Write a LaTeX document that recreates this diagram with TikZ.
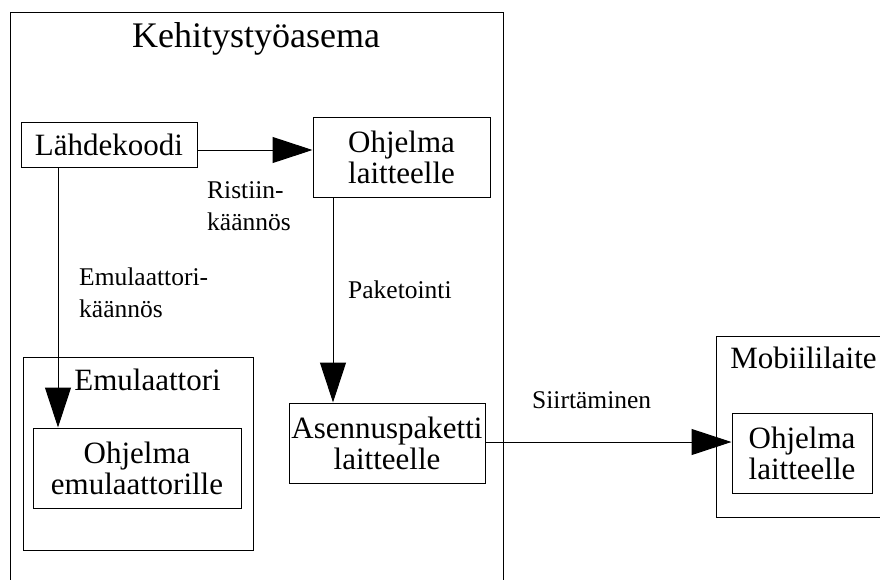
\documentclass[tikz,border=0pt]{standalone}
\usepackage{fontspec}
\setmainfont{Liberation Serif}
\usetikzlibrary{arrows.meta}
\begin{document}
\begin{tikzpicture}[x=1pt,y=-1pt,
  box/.style={draw=black,line width=1pt,rectangle,inner sep=0pt,align=center,
    font=\fontsize{31}{31}\selectfont},
  frame/.style={draw=black,line width=1pt,rectangle,inner sep=0pt},
  title/.style={inner sep=0pt,font=\fontsize{31}{31}\selectfont},
  lbl/.style={inner sep=0pt,align=left,font=\fontsize{25.5}{32}\selectfont},
  arr/.style={line width=1pt,-{Triangle[length=40pt,width=26pt]}}]
\useasboundingbox (0,0) rectangle (880,579);
\clip (0,0) rectangle (880,579);

% development workstation frame (runs past the lower edge)
\node[frame,minimum width=493pt,minimum height=620pt,anchor=north west] (ws) at (10,12) {};
\node[title,anchor=base,font=\fontsize{36}{36}\selectfont] (wstitle) at (256,47) {Kehitystyöasema};

% emulator frame
\node[frame,minimum width=230pt,minimum height=193pt,anchor=north west] (emu) at (23,357) {};
\node[title,anchor=base] (emutitle) at (147.5,390) {Emulaattori};

% mobile device frame (runs past the right edge)
\node[frame,minimum width=190pt,minimum height=181pt,anchor=north west] (mob) at (716,336) {};
\node[title,anchor=base] (mobtitle) at (803.5,368) {Mobiililaite};

% boxes
\node[box,minimum width=176pt,minimum height=45pt] (src) at (109,144.5) {Lähdekoodi};
\node[box,minimum width=177pt,minimum height=80pt] (prog) at (401.5,157) {Ohjelma\\laitteelle};
\node[box,minimum width=208pt,minimum height=80pt] (emuprog) at (137,468) {Ohjelma\\emulaattorille};
\node[box,minimum width=196pt,minimum height=80pt] (pkg) at (387,443) {Asennuspaketti\\laitteelle};
\node[box,minimum width=140pt,minimum height=80pt] (mobprog) at (802,453) {Ohjelma\\laitteelle};

% connectors
\draw[arr] ([yshift=-5.5pt]src.east) -- ([yshift=-5.5pt]src.east -| prog.west);
\draw[arr] ([xshift=-51pt]src.south) -- ([xshift=-51pt]src.south |- emuprog.north);
\draw[arr] ([xshift=-68.5pt]prog.south) -- ([xshift=-68.5pt]prog.south |- pkg.north);
\draw[arr] ([yshift=1pt]pkg.east) -- ([yshift=1pt]pkg.east -| mobprog.west);

% connector labels
\node[lbl,anchor=north west] (lcross) at (207,181) {Ristiin-\\käännös};
\node[lbl,anchor=north west] (lemu) at (79,268) {Emulaattori-\\käännös};
\node[lbl,anchor=base west] (lpack) at (348,298) {Paketointi};
\node[lbl,anchor=base west] (lmove) at (532,408) {Siirtäminen};
\end{tikzpicture}
\end{document}
